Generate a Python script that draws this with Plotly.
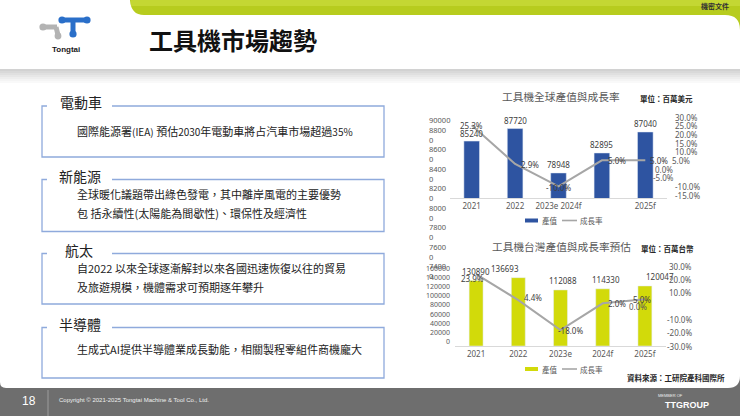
import plotly.graph_objects as go

W, H = 740, 416


def fx(x):
    return x / W


def fy(y):
    return 1 - y / H


# ---------------- data ----------------
years = ["2021", "2022", "2023e", "2024f", "2025f"]
top_xlabels = ["2021", "2022", "2023e 2024f", "", "2025f"]
global_output = [85240, 87720, 78948, 82895, 87040]      # 百萬美元
global_growth = [25.3, 2.9, -10.0, 5.0, 5.0]              # %
tw_output = [130890, 136693, 112088, 114330, 120047]      # 百萬台幣
tw_growth = [23.9, 4.4, -18.0, 2.0, 5.0]                  # %
top_left_ticks = [90000, 88000, 86000, 84000, 82000, 80000, 78000, 76000, 74000]
top_right_ticks = [30, 25, 20, 15, 10, 5, 0, -5, -10, -15]
bot_left_ticks = [160000, 140000, 120000, 100000, 80000, 60000, 40000, 20000, 0]
bot_right_ticks = [30, 20, 10, 0, -10, -20, -30]

# label nudges (pixels) – styling only
top_bar_dx = [0, 0, 0, 0, 0]
bot_bar_dx = [0, -13, 2, 3, 15]
top_line_dx = [0, 15, 0, 15, 14]
top_line_dy = [0, 0, -1, 0, 0]
bot_line_dx = [-4, 15, 10, 14, -3]
bot_line_dy = [-4, 3, 0, 0, 0]
top_right_dx = {5: -3, 0: -20, -5: -22}
bot_right_dx = {0: -45}

BLUE = "#2E54A1"
YELLOW = "#D2DA0A"
LINE = "#A6A6A6"
AX = "#595959"
NUMF = "Noto Sans"
CJK = "Noto Sans CJK TC"

# numeric category positions (for x-referenced annotations on category axes)
idx = list(range(len(years)))

fig = go.Figure()
fig.add_trace(go.Bar(x=years, y=global_output, marker_color=BLUE, width=0.36,
                     xaxis="x", yaxis="y", name="產值", showlegend=False))
fig.add_trace(go.Scatter(x=years, y=global_growth, mode="lines",
                         line=dict(color=LINE, width=2), xaxis="x", yaxis="y2",
                         name="成長率", showlegend=False))
fig.add_trace(go.Bar(x=years, y=tw_output, marker_color=YELLOW, width=0.33,
                     xaxis="x2", yaxis="y3", name="產值", showlegend=False))
fig.add_trace(go.Scatter(x=years, y=tw_growth, mode="lines",
                         line=dict(color=LINE, width=2), xaxis="x2", yaxis="y4",
                         name="成長率", showlegend=False))

shapes = []


def path(cmds, fill=None, line_color=None, width=0, layer="below"):
    out = []
    for c in cmds:
        op = c[0]
        vals = c[1:]
        pairs = []
        for i in range(0, len(vals), 2):
            pairs.append(f"{fx(vals[i]):.5f},{fy(vals[i+1]):.5f}")
        out.append(op + " ".join(pairs))
    d = " ".join(out)
    sh = dict(type="path", path=d, xref="paper", yref="paper", layer=layer,
              line=dict(width=width, color=line_color or "rgba(0,0,0,0)"))
    if fill:
        sh["fillcolor"] = fill
    shapes.append(sh)


def rect(x0, y0, x1, y1, fill, layer="below"):
    shapes.append(dict(type="rect", xref="paper", yref="paper",
                       x0=fx(x0), x1=fx(x1), y0=fy(y1), y1=fy(y0),
                       fillcolor=fill, line=dict(width=0), layer=layer))


def line(x0, y0, x1, y1, color, width=1, layer="below"):
    shapes.append(dict(type="line", xref="paper", yref="paper",
                       x0=fx(x0), x1=fx(x1), y0=fy(y0), y1=fy(y1),
                       line=dict(color=color, width=width), layer=layer))


def circle(cx, cy, r, fill, layer="below"):
    shapes.append(dict(type="circle", xref="paper", yref="paper",
                       x0=fx(cx - r), x1=fx(cx + r), y0=fy(cy + r), y1=fy(cy - r),
                       fillcolor=fill, line=dict(width=0), layer=layer))


# white slide body with rounded bottom corners (footer colour is paper bg)
path([("M", 0, 0), ("L", 740, 0), ("L", 740, 376), ("Q", 740, 388, 728, 388),
      ("L", 6, 388), ("Q", 0, 388, 0, 382), ("Z",)], fill="white")
# green tab
path([("M", 130, 0), ("L", 740, 0), ("L", 740, 30), ("Q", 740, 15, 725, 15),
      ("L", 144, 15), ("Q", 131, 15, 130, 0), ("Z",)], fill="#B7CC1E")
rect(131, 0, 740, 6, "#C4D733")
# grey band under header
band = ["#d2d2d2", "#d9d9d9", "#e0e0e0", "#e7e7e7", "#eeeeee", "#f4f4f4", "#f9f9f9"]
for i, c in enumerate(band):
    rect(0, 69 + 2 * i, 740, 71 + 2 * i, c)

# logo (approximation)
GR = "#B3B3B3"
BL = "#2A6FC9"
line(44, 27, 57, 27, GR, 5)
line(56, 27, 58, 35, GR, 5)
circle(43, 27, 3.6, GR)
circle(58, 36, 3.4, GR)
line(62, 20, 87, 20, BL, 5)
line(73, 20, 73, 33, BL, 5)
circle(62, 20, 3.6, BL)
circle(87, 20, 3.6, BL)
circle(73, 34, 3.6, BL)

# text boxes
BOXC = "#8FAADC"
boxes = [(106, 157), (179.5, 231.5), (253.5, 304), (327.5, 378)]
for top, bot in boxes:
    path([("M", 47, top), ("L", 42, top), ("L", 42, bot), ("L", 384, bot),
          ("L", 384, top), ("L", 112, top)], line_color=BOXC, width=1.3)

# footer divider
line(48, 390, 48, 416, "#9c9c9c", 1)

# manual legends
for ly, col in ((220.5, BLUE), (369, YELLOW)):
    rect(525, ly - 2, 538, ly + 2, col, layer="above")
    line(562, ly, 577, ly, LINE, 1.6, layer="above")

ann = []


def A(x, y, text, size=8, color=AX, family=NUMF, xanchor="center", yanchor="middle",
      align="center", **kw):
    d = dict(x=fx(x), y=fy(y), xref="paper", yref="paper", text=text, showarrow=False,
             font=dict(size=size, color=color, family=family), xanchor=xanchor,
             yanchor=yanchor, align=align)
    d.update(kw)
    ann.append(d)


# header
A(233, 39, "<b>工具機市場趨勢</b>", 24, "#111111", CJK)
A(66, 49, "<b>Tongtai</b>", 8, "#1a1a1a", "Liberation Sans")
A(715, 6, "<b>機密文件</b>", 7, "#333333", CJK)

# left boxes
TXT = "#222222"
A(81, 102, "電動車", 14, TXT, CJK)
A(80, 175.7, "新能源", 14, TXT, CJK)
A(79, 250, "航太", 14, TXT, CJK)
A(80, 324, "半導體", 14, TXT, CJK)
sm = "<span style='font-size:10px'>{}</span>"
A(75, 131.5, "國際能源署" + sm.format("(IEA)") + " 預估" + sm.format("2030") +
  "年電動車將占汽車市場超過" + sm.format("35%"), 11, TXT, CJK, xanchor="left")
A(75, 194.3, "全球暖化議題帶出綠色發電，其中離岸風電的主要優勢", 11, TXT, CJK, xanchor="left")
A(75, 212.7, "包 括永續性(太陽能為間歇性)、環保性及經濟性", 11, TXT, CJK, xanchor="left")
A(75, 267.7, "自2022 以來全球逐漸解封以來各國迅速恢復以往的貿易", 11, TXT, CJK, xanchor="left")
A(75, 286.7, "及旅遊規模，機體需求可預期逐年攀升", 11, TXT, CJK, xanchor="left")
A(75, 349, "生成式AI提供半導體業成長動能，相關製程零組件商機龐大", 11, TXT, CJK, xanchor="left")

# chart titles
A(561, 96, "工具機全球產值與成長率", 10.7, AX, CJK)
A(666, 99, "<b>單位：百萬美元</b>", 7.5, "#262626", CJK)
A(561, 246, "工具機台灣產值與成長率預估", 10.7, AX, CJK)
A(667, 248, "<b>單位：百萬台幣</b>", 7.5, "#262626", CJK)
A(676, 377, "<b>資料來源：工研院產科國際所</b>", 7.5, "#262626", CJK)

# legends text
for ly in (220.5, 369):
    A(540, ly, "產值", 7.5, AX, CJK, xanchor="left")
    A(578, ly, "成長率", 7.5, AX, CJK, xanchor="left")

# glitched left tick label columns (as they appear on the slide)
top_left_txt = "<br>".join(
    [str(top_left_ticks[0])] + [f"{str(v)[:4]}<br>{str(v)[4:]}" for v in top_left_ticks[1:]])
A(427, 112.5, top_left_txt, 7.5, AX, NUMF, xanchor="left", yanchor="top", align="left")
bot_left_txt = "<br>".join(str(v) for v in bot_left_ticks)
A(452, 261.5, bot_left_txt, 7, AX, NUMF, xanchor="right", yanchor="top", align="right")

# right tick labels placed through the secondary axes
for v in top_right_ticks:
    ann.append(dict(x=fx(673), xref="paper", y=v, yref="y2", text=f"{v:.1f}%",
                    showarrow=False, xanchor="left", xshift=top_right_dx.get(v, 0),
                    font=dict(size=8, color=AX, family=NUMF)))
for v in bot_right_ticks:
    ann.append(dict(x=fx(694), xref="paper", y=v, yref="y4", text=f"{v:.1f}%",
                    showarrow=False, xanchor="right", xshift=bot_right_dx.get(v, 0),
                    font=dict(size=8, color=AX, family=NUMF)))

# data labels
LBL = "#404040"
for i, v in zip(idx, global_output):
    ann.append(dict(x=i, y=v, xref="x", yref="y", text=str(v), showarrow=False,
                    yshift=8, xshift=top_bar_dx[i], font=dict(size=8, color=LBL, family=NUMF)))
for i, v in zip(idx, global_growth):
    ann.append(dict(x=i, y=v, xref="x", yref="y2", text=f"{v:.1f}%", showarrow=False,
                    xshift=top_line_dx[i], yshift=top_line_dy[i],
                    font=dict(size=8, color=LBL, family=NUMF)))
for i, v in zip(idx, tw_output):
    ann.append(dict(x=i, y=v, xref="x2", yref="y3", text=str(v), showarrow=False,
                    yshift=9, xshift=bot_bar_dx[i], font=dict(size=8, color=LBL, family=NUMF)))
for i, v in zip(idx, tw_growth):
    ann.append(dict(x=i, y=v, xref="x2", yref="y4", text=f"{v:.1f}%", showarrow=False,
                    xshift=bot_line_dx[i], yshift=bot_line_dy[i],
                    font=dict(size=8, color=LBL, family=NUMF)))

# footer
A(29, 401, "18", 12, "white", "Liberation Sans")
A(57, 400, "Copyright © 2021-2025 Tongtai Machine & Tool Co., Ltd.", 6, "#eeeeee",
  "Liberation Sans", xanchor="left")
A(670, 395, "MEMBER OF", 4, "#eeeeee", "Liberation Sans")
A(687, 404.5, "<b>TTGROUP</b>", 9, "white", "Liberation Sans")

axis_common = dict(showgrid=False, zeroline=False, fixedrange=True)
fig.update_layout(
    width=W, height=H, autosize=False,
    margin=dict(l=0, r=0, t=0, b=0),
    paper_bgcolor="#6E6E6E", plot_bgcolor="rgba(0,0,0,0)",
    showlegend=False,
    shapes=shapes, annotations=ann,
    xaxis=dict(domain=[fx(450), fx(667)], anchor="y", type="category",
               categoryorder="array", categoryarray=years, range=[-0.5, 4.5],
               tickvals=years, ticktext=top_xlabels, tickangle=0, showline=True,
               linecolor="#D9D9D9", ticks="", tickfont=dict(size=8, color=AX, family=NUMF),
               **axis_common),
    yaxis=dict(domain=[fy(198), fy(117)], range=[74000, 90000], visible=False,
               anchor="x", **axis_common),
    yaxis2=dict(overlaying="y", side="right", range=[-16.7, 30], visible=False,
                anchor="x", **axis_common),
    xaxis2=dict(domain=[fx(455), fx(666)], anchor="y3", type="category",
                categoryorder="array", categoryarray=years, range=[-0.5, 4.5],
                tickvals=years, ticktext=years, tickangle=0, showline=True,
                linecolor="#D9D9D9", ticks="", tickfont=dict(size=8, color=AX, family=NUMF),
                **axis_common),
    yaxis3=dict(domain=[fy(346), fy(266)], range=[0, 160000], visible=False,
                anchor="x2", **axis_common),
    yaxis4=dict(overlaying="y3", side="right", range=[-30, 30], visible=False,
                anchor="x2", **axis_common),
)

fig.write_html(
    "out.html",
    config={"displayModeBar": False, "staticPlot": True},
    post_script="document.body.style.margin='0px';document.body.style.overflow='hidden';",
)
